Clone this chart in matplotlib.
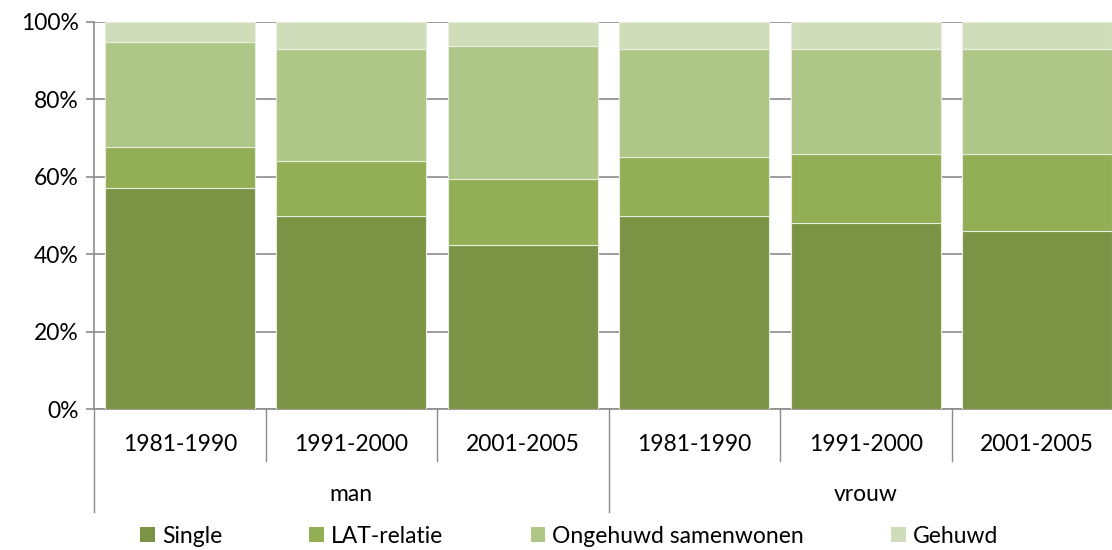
import matplotlib.pyplot as plt
import numpy as np
from matplotlib.transforms import blended_transform_factory
from matplotlib.patches import Patch

plt.rcParams['font.family'] = ['Lato', 'DejaVu Sans']

periods = ['1981-1990', '1991-2000', '2001-2005', '1981-1990', '1991-2000', '2001-2005']
groups = ['man', 'vrouw']
series = ['Single', 'LAT-relatie', 'Ongehuwd samenwonen', 'Gehuwd']

single = [57.0, 50.0, 42.4, 50.0, 48.0, 45.9]
lat = [10.8, 14.0, 17.1, 15.0, 18.0, 20.1]
ongehuwd = [27.1, 29.0, 34.4, 28.0, 27.0, 27.0]
gehuwd = [5.1, 7.0, 6.1, 7.0, 7.0, 7.0]

colors = ['#7b9344', '#93af55', '#aec686', '#d0ddba']
fs = 16.5

fig = plt.figure(figsize=(11.12, 5.5), dpi=100)
ax = fig.add_axes([94 / 1112, 1 - 409 / 550, 1029 / 1112, 387 / 550])

x = np.arange(len(periods))
bottom = np.zeros(len(periods))
for vals, col, name in zip([single, lat, ongehuwd, gehuwd], colors, series):
    ax.bar(x, vals, width=0.875, bottom=bottom, color=col, edgecolor='#e8eedd',
           linewidth=0.8, label=name, zorder=3)
    bottom += np.array(vals)

ax.set_xlim(-0.5, len(periods) - 0.5)
ax.set_ylim(0, 100)
ax.set_yticks([0, 20, 40, 60, 80, 100])
ax.set_yticklabels(['0%', '20%', '40%', '60%', '80%', '100%'], fontsize=fs)
ax.yaxis.grid(True, color='#8c8c8c', linewidth=1.2, zorder=0)
ax.set_axisbelow(True)
ax.tick_params(axis='y', length=6, color='#8c8c8c', width=1.2, pad=5)
ax.set_xticks([])
for s in ['top', 'right']:
    ax.spines[s].set_visible(False)
for s in ['left', 'bottom']:
    ax.spines[s].set_color('#8c8c8c')
    ax.spines[s].set_linewidth(1.2)

# category axis with two levels
trans = blended_transform_factory(ax.transData, ax.transAxes)
for i, p in enumerate(periods):
    ax.text(i, -0.093, p, transform=trans, ha='center', va='center', fontsize=fs)
for i in range(len(periods) + 1):
    edge = i - 0.5
    depth = -0.266 if i % 3 == 0 else -0.134
    ax.plot([edge, edge], [0, depth], transform=trans, color='#8c8c8c',
            linewidth=1.0, clip_on=False)
for g, name in enumerate(groups):
    ax.text(g * 3 + 1, -0.22, name, transform=trans, ha='center', va='center', fontsize=fs)

handles = [Patch(facecolor=c, label=n) for c, n in zip(colors, series)]
fig.legend(handles=handles, loc='center', bbox_to_anchor=(0.512, 0.025), ncol=4,
           frameon=False, fontsize=fs, handlelength=0.65, handleheight=0.65,
           handletextpad=0.3, columnspacing=3.8)

fig.savefig('out.png', dpi=100)
